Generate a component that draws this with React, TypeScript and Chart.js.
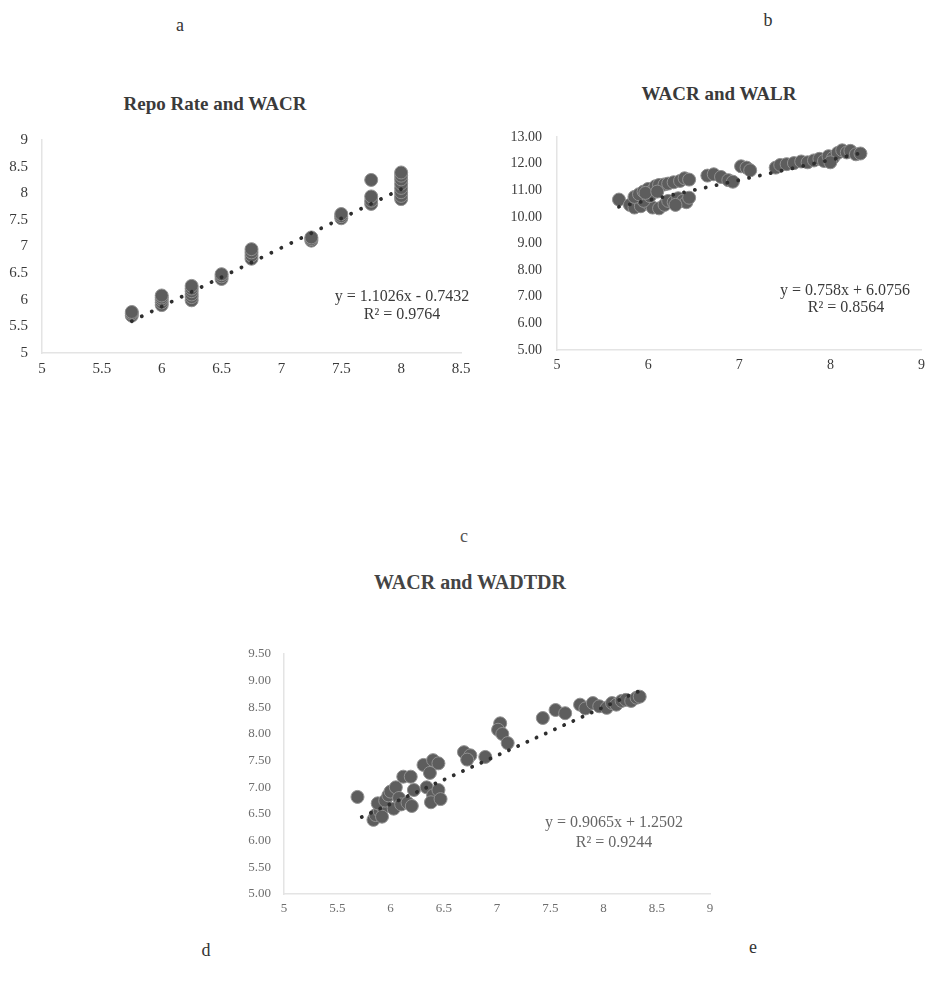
import React, { useEffect, useRef } from "react";
import { Chart, registerables } from "chart.js";
Chart.register(...registerables);

// ---------- Panel a: Repo Rate (x) vs WACR (y) ----------
const repoRateA = [
  5.75, 5.75, 5.75,
  6, 6, 6, 6, 6,
  6.25, 6.25, 6.25, 6.25, 6.25, 6.25,
  6.5, 6.5, 6.5,
  6.75, 6.75, 6.75, 6.75,
  7.25, 7.25, 7.25,
  7.5, 7.5, 7.5,
  7.75, 7.75, 7.75, 7.75,
  8, 8, 8, 8, 8, 8, 8, 8,
];
const wacrA = [
  5.7, 5.74, 5.77,
  5.9, 5.95, 6.0, 6.04, 6.08,
  5.99, 6.05, 6.1, 6.16, 6.21, 6.26,
  6.39, 6.44, 6.48,
  6.77, 6.83, 6.89, 6.95,
  7.11, 7.14, 7.17,
  7.53, 7.57, 7.61,
  7.8, 7.86, 7.94, 8.25,
  7.89, 7.95, 8.02, 8.1, 8.18, 8.26, 8.33, 8.39,
];
const trendXA = [5.75, 8];
const trendYA = [5.597, 8.078];
const xTicksA = [5, 5.5, 6, 6.5, 7, 7.5, 8, 8.5];
const yTicksA = [5, 5.5, 6, 6.5, 7, 7.5, 8, 8.5, 9];

// ---------- Panel b: WACR (x) vs WALR (y) ----------
const wacrB = [
  5.68, 5.8, 5.85, 5.92, 6.0, 6.05, 6.12, 6.18, 6.22, 6.28, 6.33, 6.38, 6.42, 6.45, 6.3, 5.95,
  5.85, 5.9, 5.95, 6.0, 6.05, 6.08, 6.12, 6.18, 6.22, 6.28, 6.35, 6.4, 6.45, 6.02, 5.97, 6.1,
  6.65, 6.72, 6.8, 6.88, 6.93, 7.02, 7.08, 7.12,
  7.4, 7.45, 7.52, 7.6, 7.68, 7.75, 7.82, 7.88, 7.93, 7.98, 8.03, 8.08, 8.13, 8.18, 8.22, 8.28, 8.33, 8.0,
];
const walrB = [
  10.65, 10.45, 10.35, 10.4, 10.5, 10.35, 10.32, 10.45, 10.6, 10.55, 10.7, 10.6, 10.55, 10.72, 10.45, 10.6,
  10.75, 10.85, 10.95, 11.05, 11.0, 11.15, 11.2, 11.22, 11.25, 11.3, 11.35, 11.45, 11.4, 10.78, 10.9, 10.95,
  11.55, 11.6, 11.5, 11.38, 11.32, 11.9, 11.85, 11.75,
  11.85, 11.95, 11.98, 12.02, 12.08, 12.05, 12.12, 12.18, 12.1, 12.28, 12.22, 12.4, 12.5, 12.42, 12.48, 12.35, 12.38, 12.05,
];
const trendXB = [5.68, 8.33];
const trendYB = [10.381, 12.39];
const xTicksB = [5, 6, 7, 8, 9];
const yTicksB = [5, 6, 7, 8, 9, 10, 11, 12, 13];

// ---------- Panel c: WACR (x) vs WADTDR (y) ----------
const wacrC = [
  5.69,
  5.84, 5.86, 5.9, 5.93, 5.88, 5.95, 5.98, 6.0, 6.03, 6.05, 6.08, 6.1, 5.92,
  6.12, 6.19, 6.22, 6.16, 6.2,
  6.34, 6.4, 6.45, 6.38, 6.47,
  6.31, 6.4, 6.37, 6.45,
  6.69, 6.75, 6.72, 6.89,
  7.03, 7.01, 7.05, 7.1,
  7.43, 7.55, 7.64,
  7.78, 7.83, 7.9, 7.96, 8.03, 8.08, 8.12, 8.17, 8.21, 8.26, 8.31, 8.34,
];
const wadtdrC = [
  6.82,
  6.39, 6.48, 6.55, 6.62, 6.7, 6.75, 6.85, 6.92, 6.6, 7.0, 6.8, 6.68, 6.45,
  7.2, 7.2, 6.95, 6.71, 6.65,
  7.0, 6.85, 6.95, 6.72, 6.78,
  7.42, 7.51, 7.27, 7.45,
  7.66, 7.6, 7.52, 7.57,
  8.2, 8.08, 8.0, 7.83,
  8.3, 8.45, 8.39,
  8.55, 8.48, 8.58, 8.52, 8.49, 8.58, 8.55, 8.62, 8.64, 8.62, 8.68, 8.7,
];
const trendXC = [5.73, 8.37];
const trendYC = [6.444, 8.838];
const xTicksC = [5, 5.5, 6, 6.5, 7, 7.5, 8, 8.5, 9];
const yTicksC = [5, 5.5, 6, 6.5, 7, 7.5, 8, 8.5, 9, 9.5];

const toPts = (xs: number[], ys: number[]) => xs.map((x, i) => ({ x, y: ys[i] }));

type Spec = {
  left: number; top: number; width: number; height: number;
  plotLeft: number; plotRight: number; plotTop: number; plotBottom: number;
  xTicks: number[]; yTicks: number[];
  xFmt: (v: number) => string; yFmt: (v: number) => string;
  points: { x: number; y: number }[];
  trend: { x: number; y: number }[];
  tickColor: string; fontSize: number; yPad: number; xPad: number;
  dash: number[]; radius: number;
};

function ScatterPanel({ spec }: { spec: Spec }) {
  const ref = useRef<HTMLCanvasElement>(null);
  useEffect(() => {
    const s = spec;
    const font = { family: "'Liberation Serif', 'DejaVu Serif', serif", size: s.fontSize };
    const chart = new Chart(ref.current as HTMLCanvasElement, {
      type: "scatter",
      data: {
        datasets: [
          {
            type: "line",
            data: s.trend,
            borderColor: "#2e2e2e",
            borderWidth: 3.8,
            borderDash: s.dash,
            borderCapStyle: "round",
            pointRadius: 0,
            fill: false,
            showLine: true,
            order: 0,
          } as any,
          {
            data: s.points,
            pointRadius: s.radius,
            backgroundColor: "#5d5d5d",
            borderColor: "#909090",
            borderWidth: 1,
            order: 1,
          },
        ],
      },
      options: {
        responsive: false,
        animation: false,
        devicePixelRatio: 1,
        layout: {
          padding: {
            left: 0,
            top: s.plotTop - s.top,
            right: s.left + s.width - s.plotRight,
            bottom: 0,
          },
        },
        plugins: { legend: { display: false }, tooltip: { enabled: false } },
        scales: {
          x: {
            type: "linear",
            min: s.xTicks[0],
            max: s.xTicks[s.xTicks.length - 1],
            afterBuildTicks: (sc: any) => { sc.ticks = s.xTicks.map((v) => ({ value: v })); },
            afterFit: (sc: any) => {
              sc.height = s.top + s.height - s.plotBottom;
              sc.paddingLeft = 0; sc.paddingRight = 0;
            },
            grid: { display: false, drawTicks: false },
            border: { color: "#e4e4e4", width: 1.5 },
            ticks: {
              padding: s.xPad, color: s.tickColor, font,
              autoSkip: false, maxRotation: 0, minRotation: 0,
              callback: (v: any) => s.xFmt(Number(v)),
            },
          },
          y: {
            type: "linear",
            min: s.yTicks[0],
            max: s.yTicks[s.yTicks.length - 1],
            afterBuildTicks: (sc: any) => { sc.ticks = s.yTicks.map((v) => ({ value: v })); },
            afterFit: (sc: any) => {
              sc.width = s.plotLeft - s.left;
              sc.paddingTop = 0; sc.paddingBottom = 0;
            },
            grid: { display: false, drawTicks: false },
            border: { color: "#e4e4e4", width: 1.5 },
            ticks: {
              padding: s.yPad, color: s.tickColor, font,
              autoSkip: false,
              callback: (v: any) => s.yFmt(Number(v)),
            },
          },
        },
      } as any,
    });
    return () => chart.destroy();
  }, [spec]);
  return (
    <canvas
      ref={ref}
      width={spec.width}
      height={spec.height}
      style={{ position: "absolute", left: spec.left, top: spec.top, width: spec.width, height: spec.height }}
    />
  );
}

const specA: Spec = {
  left: 0, top: 120, width: 480, height: 270,
  plotLeft: 42, plotRight: 461, plotTop: 140, plotBottom: 353,
  xTicks: xTicksA, yTicks: yTicksA,
  xFmt: (v) => String(v), yFmt: (v) => String(v),
  points: toPts(repoRateA, wacrA), trend: toPts(trendXA, trendYA),
  tickColor: "#3a3a3a", fontSize: 15, yPad: 14, xPad: 7, dash: [0.1, 11], radius: 6.5,
};
const specB: Spec = {
  left: 490, top: 117, width: 439, height: 270,
  plotLeft: 557, plotRight: 927, plotTop: 137, plotBottom: 350,
  xTicks: xTicksB, yTicks: yTicksB,
  xFmt: (v) => String(v), yFmt: (v) => v.toFixed(2),
  points: toPts(wacrB, walrB), trend: toPts(trendXB, trendYB),
  tickColor: "#3a3a3a", fontSize: 14, yPad: 15, xPad: 7, dash: [0.1, 11], radius: 6.5,
};
const specC: Spec = {
  left: 220, top: 634, width: 510, height: 300,
  plotLeft: 284, plotRight: 710, plotTop: 654, plotBottom: 894,
  xTicks: xTicksC, yTicks: yTicksC,
  xFmt: (v) => String(v), yFmt: (v) => v.toFixed(2),
  points: toPts(wacrC, wadtdrC), trend: toPts(trendXC, trendYC),
  tickColor: "#6e6e6e", fontSize: 13, yPad: 13, xPad: 7, dash: [0.1, 10], radius: 6.5,
};

const serif = "'Liberation Serif', 'DejaVu Serif', serif";

function Txt({ x, y, children, size = 16, bold = false, color = "#333" }: any) {
  return (
    <div
      style={{
        position: "absolute", left: x, top: y, transform: "translate(-50%, -50%)",
        whiteSpace: "nowrap", fontFamily: serif, fontSize: size,
        fontWeight: bold ? 700 : 400, color, lineHeight: 1, textAlign: "center",
      }}
    >
      {children}
    </div>
  );
}

export default function App() {
  return (
    <div style={{ position: "absolute", left: 0, top: 0, width: 929, height: 1000, overflow: "hidden", background: "#fff" }}>
      <Txt x={180} y={25} size={18}>a</Txt>
      <Txt x={768} y={20} size={18}>b</Txt>
      <Txt x={464} y={536} size={18} color="#555">c</Txt>
      <Txt x={206} y={950} size={18}>d</Txt>
      <Txt x={753} y={947} size={18}>e</Txt>

      <Txt x={215} y={103} size={19} bold color="#3a3a3a">Repo Rate and WACR</Txt>
      <Txt x={719} y={93} size={19} bold color="#3a3a3a">WACR and WALR</Txt>
      <Txt x={470} y={582} size={20} bold color="#444">WACR and WADTDR</Txt>

      <ScatterPanel spec={specA} />
      <ScatterPanel spec={specB} />
      <ScatterPanel spec={specC} />

      <Txt x={402} y={296} size={16} color="#3a3a3a">y = 1.1026x - 0.7432</Txt>
      <Txt x={402} y={314} size={16} color="#3a3a3a">R² = 0.9764</Txt>
      <Txt x={845} y={290} size={16} color="#3a3a3a">y = 0.758x + 6.0756</Txt>
      <Txt x={846} y={307} size={16} color="#3a3a3a">R² = 0.8564</Txt>
      <Txt x={614} y={822} size={16} color="#666">y = 0.9065x + 1.2502</Txt>
      <Txt x={614} y={842} size={16} color="#666">R² = 0.9244</Txt>
    </div>
  );
}
